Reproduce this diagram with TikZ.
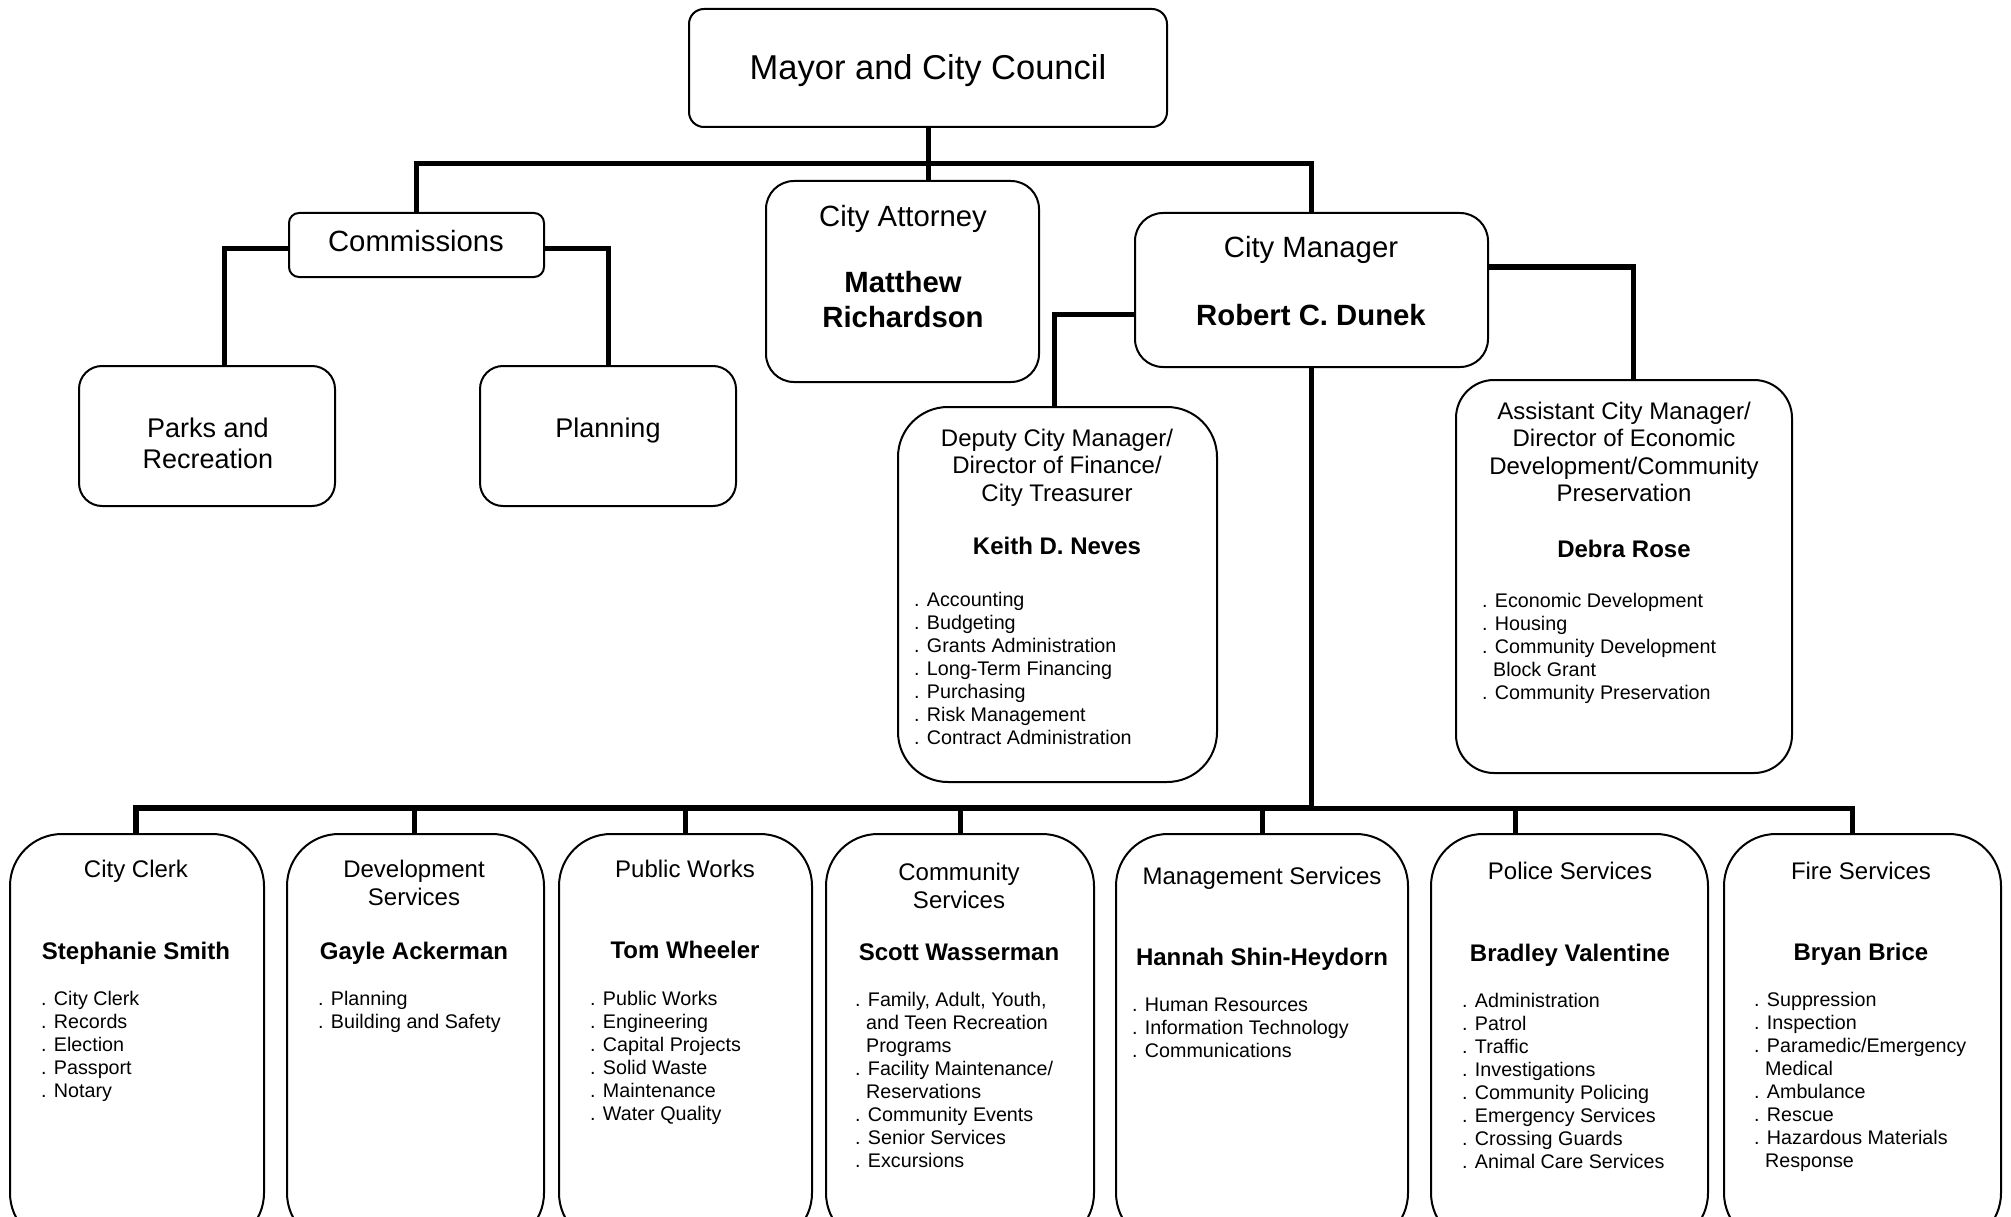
\documentclass[tikz,border=0pt]{standalone}
\usepackage{fontspec}
\setmainfont{Liberation Sans}
\tikzset{
  box/.style={draw, line width=2pt, rounded corners=#1, inner sep=0pt, fill=white},
  box/.default=20pt,
  conn/.style={line width=5pt, line join=miter},
  tx/.style={inner sep=0pt, anchor=north, align=center, yshift=-1.5pt},
  lst/.style={inner sep=0pt, anchor=north west, align=left, yshift=-1.5pt, font=\fontsize{19.7}{23}\selectfont},
  ttl/.style={tx, font=\fontsize{24}{27.5}\selectfont},
  nm/.style={tx, font=\fontsize{24}{28}\selectfont\bfseries},
  big/.style={tx, font=\fontsize{29.3}{35}\selectfont},
}
\newcommand\ind{\hphantom{.\ }}
\begin{document}
\begin{tikzpicture}[x=1pt,y=-1pt]
\path[use as bounding box] (0,0) rectangle (2011,1217);
\clip (0,0) rectangle (2011,1217);
\fill[white] (0,0) rectangle (2011,1217);

% boxes
\node[box=15pt, minimum width=478, minimum height=118] (mayor) at (928,68) {};
\node[box=28pt, minimum width=273, minimum height=201] (att) at (902.5,281.5) {};
\node[box=10pt, minimum width=255, minimum height=64] (comm) at (416.5,245) {};
\node[box=23pt, minimum width=256, minimum height=140] (parks) at (207,436) {};
\node[box=23pt, minimum width=256, minimum height=140] (plan) at (608,436) {};
\node[box=28pt, minimum width=353, minimum height=154] (mgr) at (1311.5,290) {};
\node[box=50pt, minimum width=319, minimum height=375] (dep) at (1057.5,594.5) {};
\node[box=38pt, minimum width=336, minimum height=393] (asst) at (1624,576.5) {};
\node[box=52pt, minimum width=254, minimum height=411] (clerk) at (137,1039.5) {};
\node[box=52pt, minimum width=257, minimum height=411] (dev) at (415.5,1039.5) {};
\node[box=52pt, minimum width=253, minimum height=411] (pw) at (685.5,1039.5) {};
\node[box=52pt, minimum width=268, minimum height=411] (cs) at (960,1039.5) {};
\node[box=52pt, minimum width=292, minimum height=411] (ms) at (1262,1039.5) {};
\node[box=52pt, minimum width=277, minimum height=411] (ps) at (1569.5,1039.5) {};
\node[box=52pt, minimum width=277, minimum height=411] (fs) at (1862.5,1039.5) {};

% connectors
\coordinate (bar) at (0,164);
\coordinate (bar2) at (0,808);
\draw[conn] (mayor.south) -- (mayor.south |- att.north);
\draw[conn] (comm.north) |- (bar -| mgr.north) -- (mgr.north);
\draw[conn] ([yshift=-4pt]comm.west) -| (224,0 |- parks.north);
\draw[conn] ([yshift=-4pt]comm.east) -| (plan.north);
\draw[conn] (mgr.west |- 0,314) -| (1054,0 |- dep.north);
\draw[conn] (mgr.east |- 0,267) -| (1633,0 |- asst.north);
\draw[conn] (mgr.south) -- (mgr.south |- bar2);
\draw[conn] (1311,808) -| (1852,0 |- fs.north);
\draw[conn, line width=6.5pt] (136,0 |- clerk.north) |- (1313.5,808);
\draw[conn] (414,0 |- dev.north) -- (414,808);
\draw[conn] (pw.north) -- (pw.north |- bar2);
\draw[conn] (cs.north) -- (cs.north |- bar2);
\draw[conn] (ms.north) -- (ms.north |- bar2);
\draw[conn] (1515,0 |- ps.north) -- (1515,808);

% top texts
\node[tx, font=\fontsize{34.5}{40}\selectfont] (tmayor) at (928,53) {Mayor and City Council};
\node[big] (tatt) at (903,204) {City Attorney};
\node[big, font=\fontsize{29.3}{35}\selectfont\bfseries] (natt) at (903,270) {Matthew\\Richardson};
\node[big] (tcomm) at (416,229) {Commissions};
\node[tx, font=\fontsize{27}{31}\selectfont] (tparks) at (208,416) {Parks and\\Recreation};
\node[tx, font=\fontsize{27}{31}\selectfont] (tplan) at (608,416) {Planning};
\node[big] (tmgr) at (1311,235) {City Manager};
\node[big, font=\fontsize{29.3}{35}\selectfont\bfseries] (nmgr) at (1311,303) {Robert C. Dunek};

% deputy
\node[ttl] (tdep) at (1057,427) {Deputy City Manager/\\Director of Finance/\\City Treasurer};
\node[nm] (ndep) at (1057,535) {Keith D. Neves};
\node[lst] (ldep) at (914,591) {. Accounting\\. Budgeting\\. Grants Administration\\. Long-Term Financing\\. Purchasing\\. Risk Management\\. Contract Administration};

% assistant
\node[ttl] (tasst) at (1624,400) {Assistant City Manager/\\Director of Economic\\Development/Community\\Preservation};
\node[nm] (nasst) at (1624,538) {Debra Rose};
\node[lst] (lasst) at (1482,592) {. Economic Development\\. Housing\\. Community Development\\\ind Block Grant\\. Community Preservation};

% bottom row
\node[ttl] (tclerk) at (136,858) {City Clerk};
\node[nm] (nclerk) at (136,940) {Stephanie Smith};
\node[lst] (lclerk) at (41,990) {. City Clerk\\. Records\\. Election\\. Passport\\. Notary};

\node[ttl, font=\fontsize{24}{28}\selectfont] (tdev) at (414,858) {Development\\Services};
\node[nm] (ndev) at (414,940) {Gayle Ackerman};
\node[lst] (ldev) at (318,990) {. Planning\\. Building and Safety};

\node[ttl] (tpw) at (685,858) {Public Works};
\node[nm] (npw) at (685,939) {Tom Wheeler};
\node[lst] (lpw) at (590,990) {. Public Works\\. Engineering\\. Capital Projects\\. Solid Waste\\. Maintenance\\. Water Quality};

\node[ttl, font=\fontsize{24}{28}\selectfont] (tcs) at (959,861) {Community\\Services};
\node[nm] (ncs) at (959,942) {Scott Wasserman};
\node[lst] (lcs) at (855,991) {. Family, Adult, Youth,\\\ind and Teen Recreation\\\ind Programs\\. Facility Maintenance/\\\ind Reservations\\. Community Events\\. Senior Services\\. Excursions};

\node[ttl] (tms) at (1262,865) {Management Services};
\node[nm] (nms) at (1262,946) {Hannah Shin-Heydorn};
\node[lst] (lms) at (1132,996) {. Human Resources\\. Information Technology\\. Communications};

\node[ttl] (tps) at (1570,860) {Police Services};
\node[nm] (nps) at (1570,942) {Bradley Valentine};
\node[lst] (lps) at (1462,992) {. Administration\\. Patrol\\. Traffic\\. Investigations\\. Community Policing\\. Emergency Services\\. Crossing Guards\\. Animal Care Services};

\node[ttl] (tfs) at (1861,860) {Fire Services};
\node[nm] (nfs) at (1861,941) {Bryan Brice};
\node[lst] (lfs) at (1754,991) {. Suppression\\. Inspection\\. Paramedic/Emergency\\\ind Medical\\. Ambulance\\. Rescue\\. Hazardous Materials\\\ind Response};
\end{tikzpicture}
\end{document}
